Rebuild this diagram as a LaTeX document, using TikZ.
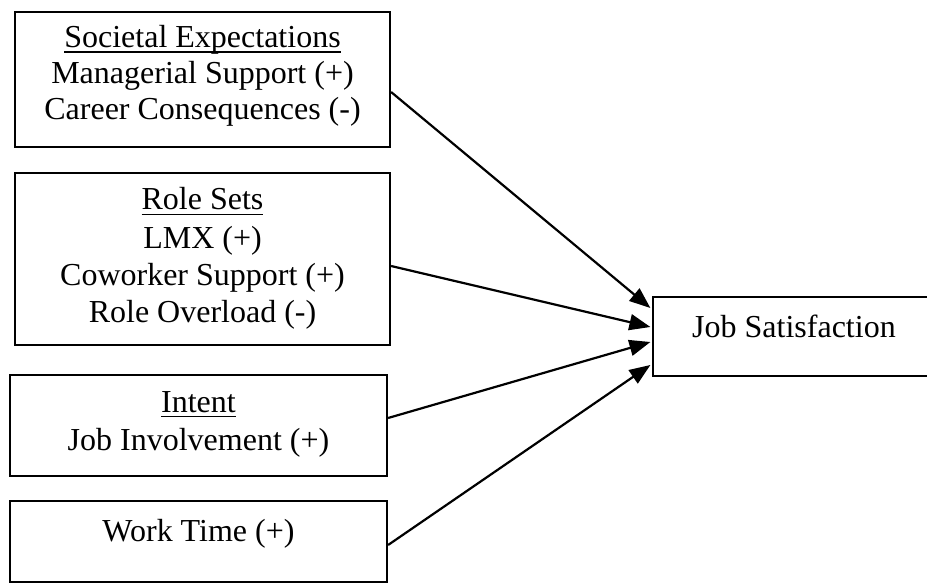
\documentclass[tikz,border=0pt]{standalone}
\usepackage{fontspec}
\setmainfont{Liberation Serif}
\usetikzlibrary{arrows.meta}
\newcommand{\hdul}[1]{\setbox0=\hbox{#1}\leavevmode\rlap{\vrule height -3.5pt depth 5.3pt width \wd0}\box0}
\tikzset{
  panel/.style={draw, line width=2.2pt, rectangle, inner sep=0pt},
  txt/.style={anchor=base, inner sep=0pt, font=\fontsize{32}{37}\selectfont},
  link/.style={line width=2.2pt, -{Triangle[length=21pt,width=16pt]}}
}
\begin{document}
\begin{tikzpicture}[x=1pt,y=-1pt]
\useasboundingbox (0,0) rectangle (927,583);
% boxes
\node[panel, minimum width=375pt, minimum height=135pt] (b1) at (202.5,79.5) {};
\node[panel, minimum width=375pt, minimum height=172pt] (b2) at (202.5,259) {};
\node[panel, minimum width=377pt, minimum height=101pt] (b3) at (198.5,425.5) {};
\node[panel, minimum width=377pt, minimum height=81pt] (b4) at (198.5,541.5) {};
\node[panel, minimum width=282pt, minimum height=79pt] (js) at (794,336.5) {};
% texts
\node[txt] (t11) at (202.5,48) {\hdul{Societal Expectations}};
\node[txt] (t12) at (202.5,84) {Managerial Support (+)};
\node[txt] (t13) at (202.5,120) {Career Consequences (-)};
\node[txt] (t21) at (202.5,210) {\hdul{Role Sets}};
\node[txt] (t22) at (202.5,248) {LMX (+)};
\node[txt] (t23) at (202.5,285) {Coworker Support (+)};
\node[txt] (t24) at (202.5,322) {Role Overload (-)};
\node[txt] (t31) at (198.5,412) {\hdul{Intent}};
\node[txt] (t32) at (198.5,450) {Job Involvement (+)};
\node[txt] (t41) at (198.5,541) {Work Time (+)};
\node[txt] (tjs) at (794,337) {Job Satisfaction};
% connectors
\draw[link] ([yshift=-12.5pt]b1.east) -- ([yshift=28.5pt,xshift=-1.5pt]js.west);
\draw[link] ([yshift=-7pt]b2.east) -- ([yshift=9.5pt,xshift=-1.5pt]js.west);
\draw[link] ([yshift=7.5pt]b3.east) -- ([yshift=-5.5pt,xshift=-1.5pt]js.west);
\draw[link] ([yshift=-3.5pt]b4.east) -- ([yshift=-28.5pt,xshift=-1.5pt]js.west);
\end{tikzpicture}
\end{document}
